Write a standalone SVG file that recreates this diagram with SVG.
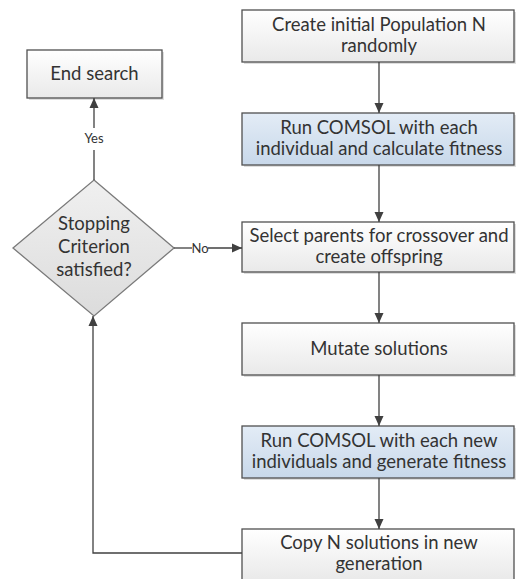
<svg xmlns="http://www.w3.org/2000/svg" width="516" height="579" viewBox="0 0 516 579">
<defs>
<linearGradient id="gw" x1="0" y1="0" x2="0" y2="1"><stop offset="0" stop-color="#ffffff"/><stop offset="1" stop-color="#e9e9e9"/></linearGradient>
<linearGradient id="gb" x1="0" y1="0" x2="0" y2="1"><stop offset="0" stop-color="#e3ecf6"/><stop offset="1" stop-color="#c8d8ea"/></linearGradient>
<linearGradient id="gd" x1="0" y1="0" x2="0" y2="1"><stop offset="0" stop-color="#f0f0f0"/><stop offset="1" stop-color="#dcdcdc"/></linearGradient>
<marker id="ah" markerWidth="10" markerHeight="10" refX="10" refY="5" orient="auto" markerUnits="userSpaceOnUse"><path d="M0,0.5 L10,5 L0,9.5 Z" fill="#404040"/></marker>
</defs>
<style>
.box{stroke:#505050;stroke-width:1.3}
.w{fill:url(#gw)}
.b{fill:url(#gb)}
.d{fill:url(#gd);stroke:#7a7a7a;stroke-width:1.3}
.sh{fill:#c8c8c8;opacity:0.6}
text{font-family:Lato,"Open Sans","Liberation Sans",sans-serif;font-size:18.5px;fill:#333;text-anchor:middle}
.lbl{font-size:13px}
.c{fill:none;stroke:#404040;stroke-width:1.3}
</style>
<rect width="516" height="579" fill="#ffffff"/>
<g id="n1"><rect class="sh" x="244" y="12" width="272" height="52"/><rect class="box w" x="242" y="10" width="272" height="52"/><text x="379" y="31">Create initial Population N</text><text x="379" y="52">randomly</text></g>
<g id="n2"><rect class="sh" x="244" y="115" width="272" height="52"/><rect class="box b" x="242" y="113" width="272" height="52"/><text x="379" y="134">Run COMSOL with each</text><text x="379" y="155">individual and calculate fitness</text></g>
<g id="n3"><rect class="sh" x="244" y="224" width="272" height="50"/><rect class="box w" x="242" y="222" width="272" height="50"/><text x="379" y="242">Select parents for crossover and</text><text x="379" y="263">create offspring</text></g>
<g id="n4"><rect class="sh" x="244" y="325" width="272" height="52"/><rect class="box w" x="242" y="323" width="272" height="52"/><text x="379" y="355">Mutate solutions</text></g>
<g id="n5"><rect class="sh" x="244" y="428" width="272" height="52"/><rect class="box b" x="242" y="426" width="272" height="52"/><text x="379" y="447">Run COMSOL with each new</text><text x="379" y="468">individuals and generate fitness</text></g>
<g id="n6"><rect class="box w" x="242" y="529" width="272" height="52"/><text x="379" y="549">Copy N solutions in new</text><text x="379" y="570">generation</text></g>
<g id="end"><rect class="sh" x="29" y="52" width="135" height="48"/><rect class="box w" x="27" y="50" width="135" height="48"/><text x="94.5" y="80">End search</text></g>
<g id="dec"><path class="d" d="M94,180 L174,248 L94,316 L13,248 Z"/><text x="94" y="230">Stopping</text><text x="94" y="253">Criterion</text><text x="94" y="276">satisfied?</text></g>
<g id="connectors">
<line class="c" x1="379" y1="62" x2="379" y2="113" marker-end="url(#ah)"/>
<line class="c" x1="379" y1="165" x2="379" y2="222" marker-end="url(#ah)"/>
<line class="c" x1="379" y1="272" x2="379" y2="323" marker-end="url(#ah)"/>
<line class="c" x1="379" y1="375" x2="379" y2="426" marker-end="url(#ah)"/>
<line class="c" x1="379" y1="478" x2="379" y2="529" marker-end="url(#ah)"/>
<polyline class="c" points="242,553 93,553 93,316" marker-end="url(#ah)"/>
<line class="c" x1="94" y1="180" x2="94" y2="150"/>
<line class="c" x1="94" y1="128" x2="94" y2="98" marker-end="url(#ah)"/>
<text class="lbl" x="94" y="143">Yes</text>
<line class="c" x1="174" y1="248" x2="192" y2="248"/>
<line class="c" x1="208" y1="248" x2="242" y2="248" marker-end="url(#ah)"/>
<text class="lbl" x="200" y="252.5">No</text>
</g>
</svg>
